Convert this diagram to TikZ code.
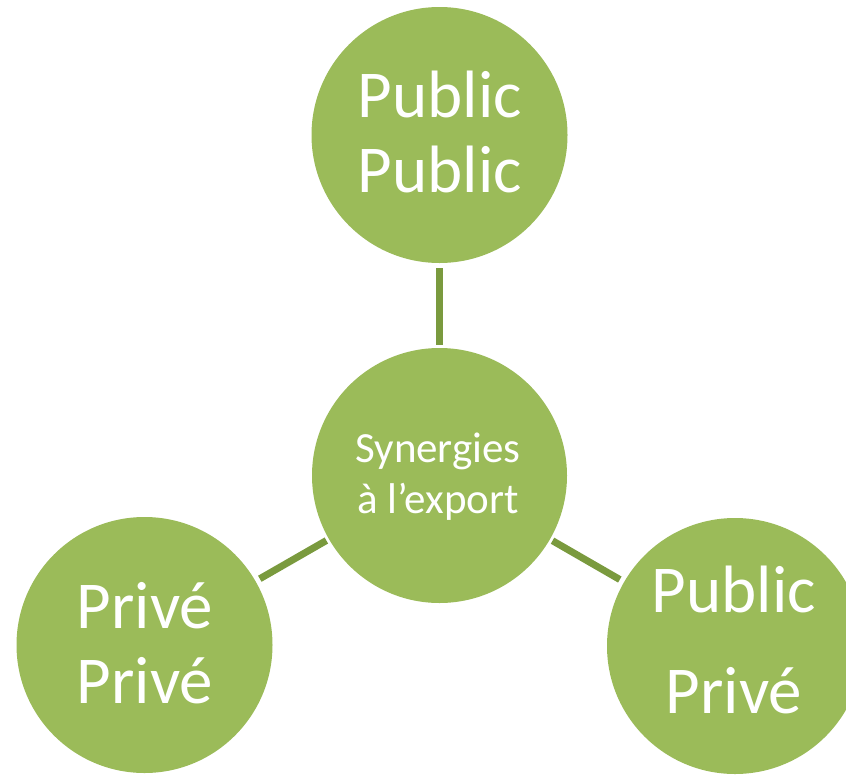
\documentclass[tikz,border=0pt]{standalone}
\usepackage{fontspec}
\setmainfont{Carlito}
\definecolor{circfill}{HTML}{9BBB59}
\definecolor{linkcol}{HTML}{7A9A3E}
\begin{document}
\begin{tikzpicture}[x=1pt,y=-1pt,
  bubble/.style={circle,fill=circfill,draw=none,inner sep=0pt,outer sep=0pt,minimum size=#1},
  bubble/.default=256pt,
  bigtxt/.style={text=white,font=\fontsize{67}{75}\selectfont,anchor=base,inner sep=0pt},
  midtxt/.style={text=white,font=\fontsize{43}{50}\selectfont,anchor=base,inner sep=0pt},
  link/.style={draw=linkcol,line width=7pt,shorten <=5pt,shorten >=3pt}]
\useasboundingbox (0,0) rectangle (846,774);
\clip (0,0) rectangle (846,774);
\node[bubble] (top) at (439.5,135) {};
\node[bubble=255pt] (mid) at (439.5,475.5) {};
\node[bubble] (left) at (144.5,645) {};
\node[bubble] (right) at (735,646) {};
\draw[link] (top) -- (mid);
\draw[link] (left) -- (mid);
\draw[link] (right) -- (mid);
\node[bigtxt] (t1) at (440,117) {Public};
\node[bigtxt] (t2) at (440,192) {Public};
\node[bigtxt] (l1) at (145,628) {Privé};
\node[bigtxt] (l2) at (145,703) {Privé};
\node[bigtxt] (r1) at (734,612) {Public};
\node[bigtxt] (r2) at (734,713) {Privé};
\node[midtxt] (m1) at (438,462) {Synergies};
\node[midtxt] (m2) at (438,513) {à l’export};
\end{tikzpicture}
\end{document}
